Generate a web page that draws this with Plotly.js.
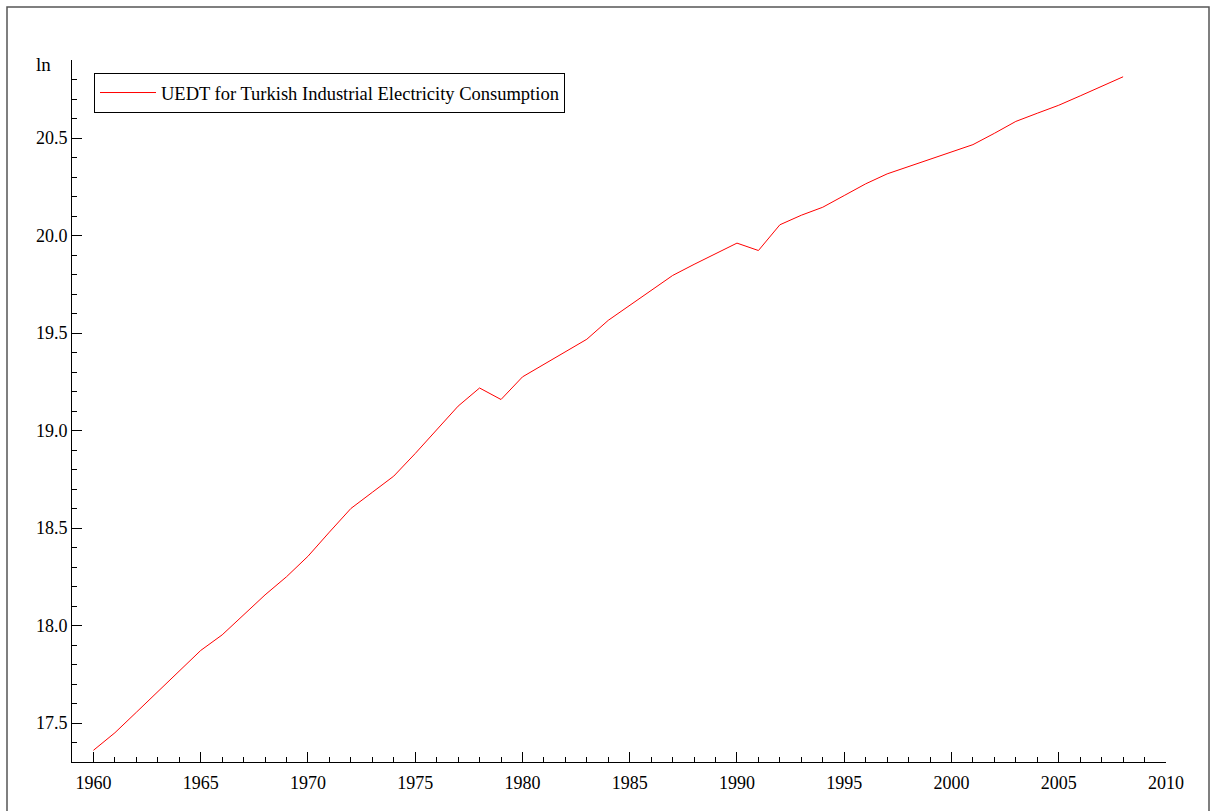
<!DOCTYPE html>
<html>
<head>
<meta charset="utf-8">
<script src="https://cdn.plot.ly/plotly-3.0.1.min.js"></script>
<style>
  html, body { margin: 0; padding: 0; background: #ffffff; }
  #chart { width: 1215px; height: 811px; }
</style>
</head>
<body>
<div id="chart"></div>
<script>
// Years of observation
const years = [
  1960, 1961, 1962, 1963, 1964, 1965, 1966, 1967, 1968, 1969,
  1970, 1971, 1972, 1973, 1974, 1975, 1976, 1977, 1978, 1979,
  1980, 1981, 1982, 1983, 1984, 1985, 1986, 1987, 1988, 1989,
  1990, 1991, 1992, 1993, 1994, 1995, 1996, 1997, 1998, 1999,
  2000, 2001, 2002, 2003, 2004, 2005, 2006, 2007, 2008
];

// Underlying energy demand trend (natural log)
const uedtLn = [
  17.360, 17.450, 17.555, 17.660, 17.765, 17.872, 17.952, 18.054, 18.157, 18.250,
  18.355, 18.479, 18.600, 18.683, 18.766, 18.882, 19.002, 19.125, 19.218, 19.159,
  19.275, 19.340, 19.405, 19.468, 19.565, 19.642, 19.718, 19.795, 19.852, 19.907,
  19.961, 19.923, 20.055, 20.104, 20.145, 20.205, 20.265, 20.316, 20.354, 20.390,
  20.428, 20.466, 20.524, 20.585, 20.627, 20.668, 20.716, 20.764, 20.814
];

const seriesName = 'UEDT for Turkish Industrial Electricity Consumption';
const chartTitle = 'Turkish Industrial Electricity Consumption';
const yUnitLabel = 'ln';

const serif = "'Liberation Serif', 'Times New Roman', Times, serif";

const trace = {
  x: years,
  y: uedtLn,
  type: 'scatter',
  mode: 'lines',
  name: seriesName,
  line: { color: '#ff0000', width: 1 },
  showlegend: true
};

// pixel helpers for the 1215x811 canvas
const W = 1215, H = 811;
const M = { l: 72, r: 49, t: 60, b: 49 };
const pw = W - M.l - M.r, ph = H - M.t - M.b;
const px = v => (v - M.l) / pw;
const py = v => 1 - (v - M.t) / ph;

const layout = {
  width: W,
  height: H,
  margin: M,
  paper_bgcolor: '#ffffff',
  plot_bgcolor: '#ffffff',
  font: { family: serif, size: 18, color: '#000000' },
  showlegend: true,
  legend: {
    x: px(94), y: py(73),
    xanchor: 'left', yanchor: 'top',
    bgcolor: '#ffffff',
    bordercolor: '#000000',
    borderwidth: 1,
    itemwidth: 56,
    font: { family: serif, size: 18.5, color: '#000000' }
  },
  xaxis: {
    range: [1959, 2010],
    showgrid: false,
    zeroline: false,
    showline: true,
    linecolor: '#000000',
    linewidth: 1,
    ticks: 'inside',
    ticklen: 10,
    tickcolor: '#000000',
    tickwidth: 1,
    tick0: 1960,
    dtick: 5,
    ticklabelstandoff: 4,
    minor: { ticks: 'inside', ticklen: 5, dtick: 1, tick0: 1960, tickcolor: '#000000', showgrid: false },
    tickfont: { family: serif, size: 18, color: '#000000' }
  },
  yaxis: {
    range: [17.3, 20.9],
    showgrid: false,
    zeroline: false,
    showline: true,
    linecolor: '#000000',
    linewidth: 1,
    ticks: 'inside',
    ticklen: 10,
    tickcolor: '#000000',
    tickwidth: 1,
    tick0: 17.5,
    dtick: 0.5,
    tickformat: '.1f',
    minor: { ticks: 'inside', ticklen: 5, dtick: 0.1, tick0: 17.5, tickcolor: '#000000', showgrid: false },
    tickfont: { family: serif, size: 18, color: '#000000' }
  },
  shapes: [
    {
      type: 'rect', xref: 'paper', yref: 'paper', layer: 'below',
      x0: px(7), x1: px(1209), y0: py(830), y1: py(7),
      line: { color: '#555555', width: 1.5 }, fillcolor: 'rgba(0,0,0,0)'
    }
  ],
  annotations: [
    {
      text: yUnitLabel, xref: 'paper', yref: 'paper',
      x: px(34), y: py(64), xanchor: 'left', yanchor: 'middle',
      showarrow: false, font: { family: serif, size: 19, color: '#000000' }
    },
    {
      text: '<b>' + chartTitle + '</b>', xref: 'paper', yref: 'paper',
      x: px(32), y: py(2), xanchor: 'left', yanchor: 'bottom',
      showarrow: false, font: { family: serif, size: 15, color: '#000000' }
    }
  ]
};

Plotly.newPlot('chart', [trace], layout, { staticPlot: true, displayModeBar: false });
</script>
</body>
</html>
